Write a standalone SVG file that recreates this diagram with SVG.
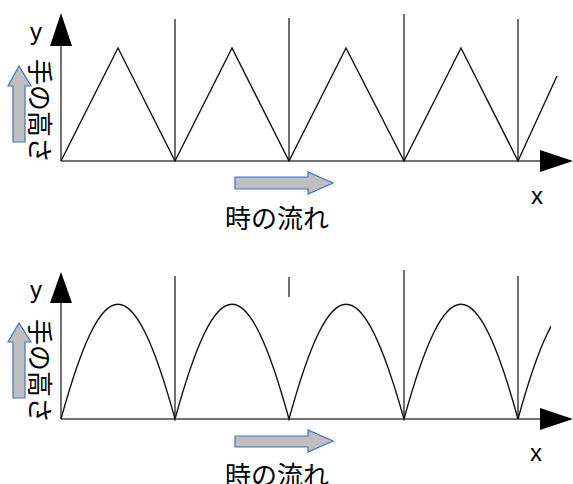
<svg xmlns="http://www.w3.org/2000/svg" width="573" height="484" viewBox="0 0 573 484">
<style>
.ax{stroke:#444;stroke-width:1.5;fill:none}
.vl{stroke:#222;stroke-width:1.3;fill:none}
.cv{stroke:#111;stroke-width:1.4;fill:none}
.ah{fill:#000}
.blue{fill:#BFBFBF;stroke:#4472C4;stroke-width:1.2}
.lbl{font-family:"Liberation Sans",Arial,sans-serif;font-size:24px;fill:#000}
.jp{font-family:"Noto Sans CJK JP","Noto Sans CJK SC",sans-serif;font-size:26px;fill:#000}
</style>
<defs>
<clipPath id="clipb"><rect x="0" y="250" width="551" height="234"/></clipPath>
</defs>
<rect width="573" height="484" fill="#fff"/>

<!-- Top panel -->
<g id="top-axes">
<line class="ax" x1="61" y1="45" x2="61" y2="161"/>
<polygon class="ah" points="61,13 50,46 72,46"/>
<line class="ax" x1="61" y1="161" x2="541" y2="161"/>
<polygon class="ah" points="540,150 573,161 540,172"/>
<text class="lbl" x="30" y="40">y</text>
<text class="lbl" x="531" y="204">x</text>
</g>
<g id="top-verticals">
<line class="vl" x1="175" y1="19" x2="175" y2="161"/>
<line class="vl" x1="289" y1="18" x2="289" y2="161"/>
<line class="vl" x1="404" y1="14" x2="404" y2="161"/>
<line class="vl" x1="518" y1="19" x2="518" y2="161"/>
</g>
<g id="top-wave">
<polyline class="cv" points="61,161 118,48 175,161 232,48 289,161 346,48 404,161 461,48 518,161 557,76"/>
</g>
<g id="top-y-label">
<polygon class="blue" points="13,142 13,86 8,86 19,66 31,86 25,86 25,142"/>
<text class="jp" transform="translate(30,59) rotate(90)">手の高さ</text>
</g>
<g id="top-x-label">
<polygon class="blue" points="235,177 308,177 308,172 333,183 308,194 308,189 235,189"/>
<text class="jp" x="277" y="228" text-anchor="middle">時の流れ</text>
</g>

<!-- Bottom panel -->
<g id="bottom-axes">
<line class="ax" x1="61" y1="300" x2="61" y2="419"/>
<polygon class="ah" points="61,272 50,303 72,303"/>
<line class="ax" x1="61" y1="419" x2="541" y2="419"/>
<polygon class="ah" points="540,408 573,419 540,430"/>
<text class="lbl" x="30" y="298">y</text>
<text class="lbl" x="530" y="461">x</text>
</g>
<g id="bottom-verticals">
<line class="vl" x1="175" y1="276" x2="175" y2="419"/>
<line class="vl" x1="289" y1="277" x2="289" y2="297"/>
<line class="vl" x1="404" y1="270" x2="404" y2="419"/>
<line class="vl" x1="518" y1="276" x2="518" y2="419"/>
</g>
<g id="bottom-wave">
<path class="cv" d="M61,419 C103,266 133,266 175,419 C217,266 247,266 289,419 C331,266 361,266 404,419 C446,266 476,266 518,419"/>
<path class="cv" clip-path="url(#clipb)" d="M518,419 C560,266 590,266 632,419"/>
</g>
<g id="bottom-y-label">
<polygon class="blue" points="13,398 13,342 8,342 19,323 31,342 25,342 25,398"/>
<text class="jp" transform="translate(30,319) rotate(90)">手の高さ</text>
</g>
<g id="bottom-x-label">
<polygon class="blue" points="235,436 308,436 308,430 333,441 308,452 308,447 235,447"/>
<text class="jp" x="277" y="485" text-anchor="middle">時の流れ</text>
</g>
</svg>
